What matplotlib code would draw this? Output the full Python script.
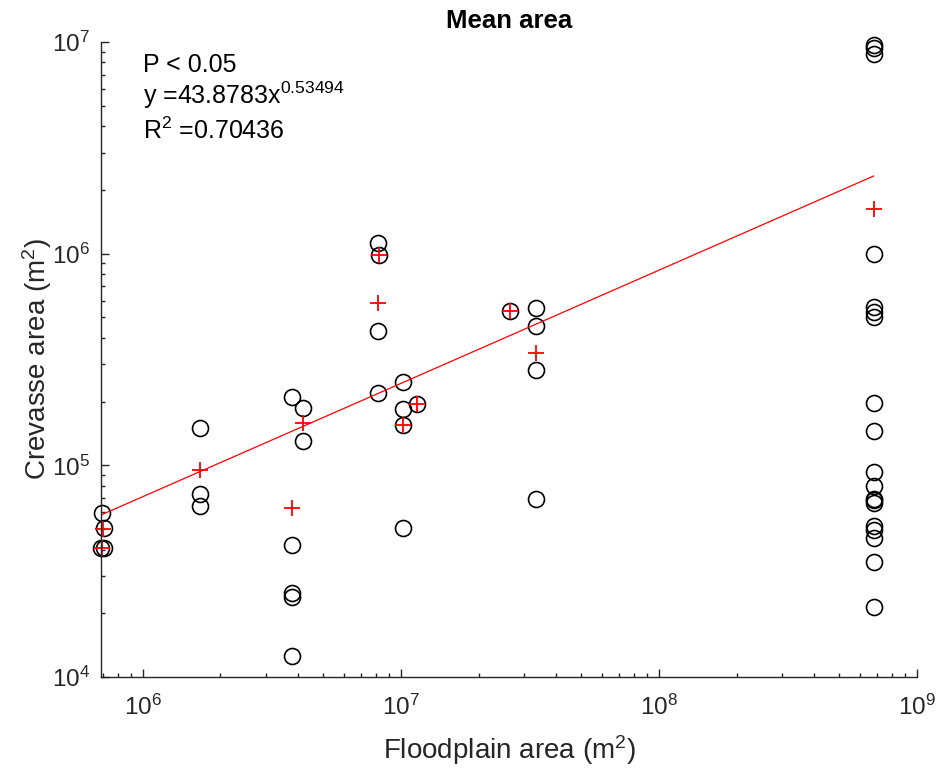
import numpy as np
from matplotlib import pyplot as plt
from matplotlib.ticker import LogLocator, NullFormatter, FuncFormatter

plt.rcParams['font.family'] = ['Liberation Sans', 'DejaVu Sans']
plt.rcParams['mathtext.default'] = 'regular'

# individual sites: floodplain area vs crevasse area (m^2)
site_x = [6.89e5, 7.1e5, 6.95e5, 7.05e5,
          1.66e6, 1.66e6, 1.66e6,
          3.8e6, 3.8e6, 3.8e6, 3.8e6, 3.8e6,
          4.17e6, 4.17e6,
          8.18e6, 8.18e6, 8.18e6, 8.24e6,
          1.02e7, 1.02e7, 1.02e7, 1.02e7,
          1.15e7, 2.64e7,
          3.33e7, 3.33e7, 3.33e7, 3.33e7] + [6.79e8] * 19
site_y = [4.06e4, 4.06e4, 5.97e4, 5.06e4,
          1.50e5, 7.3e4, 6.43e4,
          2.11e5, 4.21e4, 2.48e4, 2.39e4, 1.25e4,
          1.86e5, 1.30e5,
          1.12e6, 4.33e5, 2.19e5, 9.84e5,
          2.48e5, 1.85e5, 1.55e5, 5.04e4,
          1.95e5, 5.37e5,
          5.52e5, 4.56e5, 2.82e5, 6.9e4,
          9.66e6, 9.35e6, 8.77e6, 1.0e6, 5.60e5, 5.30e5, 5.02e5,
          1.98e5, 1.45e5, 9.33e4, 7.99e4, 6.95e4, 6.85e4, 6.65e4,
          5.16e4, 4.94e4, 4.52e4, 3.48e4, 2.15e4]

# mean crevasse area per floodplain
mean_x = [6.93e5, 7.02e5, 1.66e6, 3.8e6, 4.17e6, 8.24e6, 8.18e6,
          1.02e7, 1.15e7, 2.64e7, 3.33e7, 6.79e8]
mean_y = [4.06e4, 5.0e4, 9.5e4, 6.27e4, 1.58e5, 9.84e5, 5.86e5,
          1.55e5, 1.95e5, 5.37e5, 3.38e5, 1.63e6]

# power law fit y = a * x^b
fit_a = 43.8783
fit_b = 0.53494
fit_x = np.array([min(mean_x), max(mean_x)])
fit_y = fit_a * fit_x ** fit_b

axcol = '#262626'

fig = plt.figure(figsize=(9.38, 7.76), dpi=100)
ax = fig.add_axes([0.1077, 0.1276, 0.8699, 0.8183])

ax.plot(site_x, site_y, 'o', mfc='none', mec='black', ms=11.5, mew=1.2,
        clip_on=False)
ax.plot(fit_x, fit_y, '-', color='red', lw=0.9)
ax.plot(mean_x, mean_y, '+', color='red', ms=11.5, mew=1.3, clip_on=False)

ax.set_xscale('log')
ax.set_yscale('log')
ax.set_xlim(6.89e5, 1e9)
ax.set_ylim(1e4, 1e7)

pow_fmt = FuncFormatter(lambda v, pos: '10$^{%d}$' % round(np.log10(v)))
ax.xaxis.set_major_formatter(pow_fmt)
ax.yaxis.set_major_formatter(pow_fmt)
ax.xaxis.set_minor_locator(LogLocator(base=10, subs=np.arange(2, 10)))
ax.yaxis.set_minor_locator(LogLocator(base=10, subs=np.arange(2, 10)))
ax.xaxis.set_minor_formatter(NullFormatter())
ax.yaxis.set_minor_formatter(NullFormatter())

ax.spines['top'].set_visible(False)
ax.spines['right'].set_visible(False)
for s in ['left', 'bottom']:
    ax.spines[s].set_color(axcol)
    ax.spines[s].set_linewidth(1.0)

ax.tick_params(which='major', direction='in', length=6, width=1.0,
               colors=axcol, labelsize=17.5)
ax.tick_params(which='minor', direction='in', length=3, width=1.0,
               colors=axcol)
ax.tick_params(axis='x', which='major', pad=13)
ax.tick_params(axis='y', which='major', pad=8)

ax.set_xlabel('Floodplain area (m$^2$)', fontsize=20, color=axcol, labelpad=9)
ax.set_ylabel('Crevasse area (m$^2$)', fontsize=20, color=axcol, labelpad=-2)
ax.set_title('Mean area', fontsize=18.5, fontweight='bold', pad=10)

ax.text(0.052, 0.964, 'P < 0.05', transform=ax.transAxes, fontsize=18,
        va='center', ha='left')
ax.text(0.052, 0.916, 'y =43.8783x$^{0.53494}$', transform=ax.transAxes,
        fontsize=18, va='center', ha='left')
ax.text(0.052, 0.860, 'R$^2$ =0.70436', transform=ax.transAxes, fontsize=18,
        va='center', ha='left')

fig.savefig('out.png', dpi=100)
